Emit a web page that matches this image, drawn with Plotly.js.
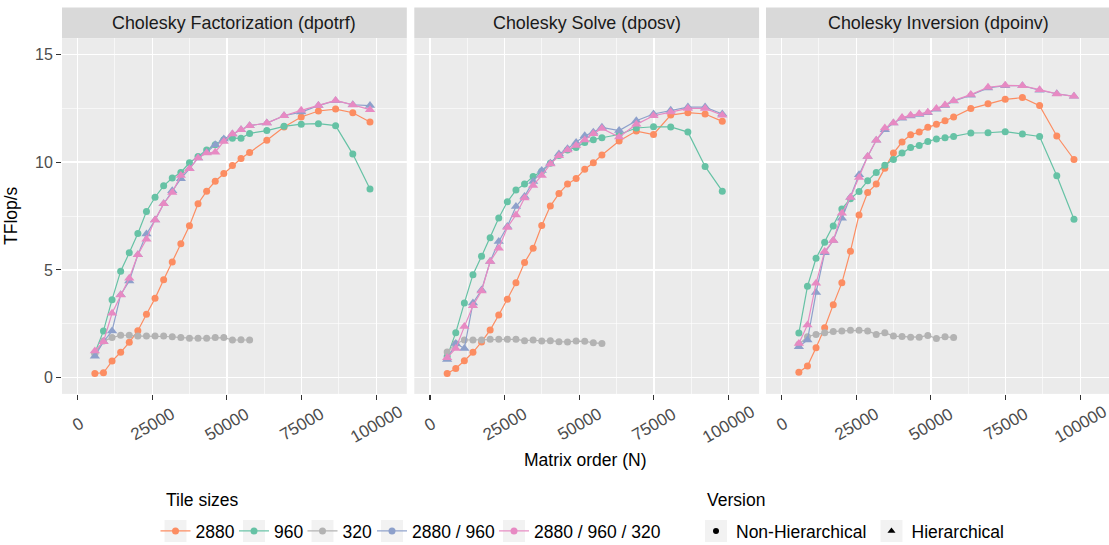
<!DOCTYPE html>
<html>
<head>
<meta charset="utf-8">
<script src="https://cdn.plot.ly/plotly-3.0.1.min.js"></script>
<style>html,body{margin:0;padding:0;background:#fff;}#chart{width:1109px;height:545px;}</style>
</head>
<body>
<div id="chart"></div>
<script>
// ---- data ----
const panels = ["Cholesky Factorization (dpotrf)", "Cholesky Solve (dposv)", "Cholesky Inversion (dpoinv)"];
const seriesNames = ["2880", "960", "320", "2880 / 960", "2880 / 960 / 320"];
const seriesHier = [false, false, false, true, true];
const versionNames = ["Non-Hierarchical", "Hierarchical"];
const legendTitles = ["Tile sizes", "Version"];
const N = [5760, 8640, 11520, 14400, 17280, 20160, 23040, 25920, 28800, 31680, 34560, 37440, 40320, 43200, 46080, 48960, 51840, 54720, 57600, 63360, 69120, 74880, 80640, 86400, 92160, 97920];
const N320 = [5760, 8640, 11520, 14400, 17280, 20160, 23040, 25920, 28800, 31680, 34560, 37440, 40320, 43200, 46080, 48960, 51840, 54720, 57600];
const xTicks = [0, 25000, 50000, 75000, 100000];
const xTickLabels = ["0", "25000", "50000", "75000", "100000"];
const yTicks = [0, 5, 10, 15];
const yTickLabels = ["0", "5", "10", "15"];

// dpotrf
const potrf_2880 = [0.20, 0.23, 0.77, 1.18, 1.64, 2.18, 2.94, 3.68, 4.54, 5.37, 6.21, 7.05, 8.07, 8.65, 9.11, 9.47, 9.84, 10.17, 10.45, 11.01, 11.63, 12.09, 12.37, 12.46, 12.29, 11.86];
const potrf_960 = [1.15, 2.17, 3.62, 4.94, 5.79, 6.69, 7.71, 8.37, 8.90, 9.26, 9.52, 9.97, 10.26, 10.56, 10.80, 11.04, 11.10, 11.11, 11.33, 11.46, 11.66, 11.76, 11.78, 11.69, 10.37, 8.75];
const potrf_320 = [1.10, 1.70, 1.86, 1.97, 1.97, 1.93, 1.93, 1.93, 1.93, 1.90, 1.86, 1.83, 1.83, 1.83, 1.86, 1.86, 1.75, 1.76, 1.75];
const potrf_2880_960 = [1.00, 1.67, 2.17, 3.85, 4.49, 5.70, 6.66, 7.31, 8.07, 8.67, 9.23, 9.69, 10.19, 10.45, 10.80, 11.07, 11.30, 11.50, 11.69, 11.81, 12.15, 12.32, 12.62, 12.85, 12.66, 12.62];
const potrf_2880_960_320 = [1.24, 1.67, 2.99, 3.84, 4.61, 5.70, 6.42, 7.32, 8.07, 8.59, 9.38, 9.69, 10.19, 10.42, 10.46, 10.96, 11.30, 11.50, 11.69, 11.81, 12.15, 12.40, 12.62, 12.86, 12.65, 12.43];
// dposv
const posv_2880 = [0.20, 0.43, 0.79, 1.18, 1.66, 2.21, 2.91, 3.64, 4.40, 5.34, 6.01, 7.06, 7.96, 8.54, 8.98, 9.24, 9.67, 9.97, 10.33, 10.98, 11.44, 11.28, 12.18, 12.29, 12.23, 11.89];
const posv_960 = [0.98, 2.09, 3.47, 4.78, 5.63, 6.49, 7.41, 8.16, 8.70, 8.98, 9.33, 9.57, 9.95, 10.31, 10.56, 10.68, 10.91, 11.04, 11.13, 11.28, 11.58, 11.64, 11.63, 11.39, 9.80, 8.65];
const posv_320 = [1.19, 1.58, 1.75, 1.75, 1.75, 1.78, 1.78, 1.78, 1.78, 1.72, 1.75, 1.70, 1.72, 1.67, 1.66, 1.70, 1.69, 1.62, 1.59];
const posv_2880_960 = [0.85, 1.59, 1.36, 3.47, 4.07, 5.39, 6.32, 7.01, 7.94, 8.41, 9.10, 9.61, 9.95, 10.37, 10.62, 10.91, 11.22, 11.38, 11.61, 11.46, 11.92, 12.23, 12.40, 12.55, 12.55, 12.23];
const posv_2880_960_320 = [0.93, 1.36, 2.37, 3.34, 4.02, 5.39, 6.01, 6.97, 7.55, 8.33, 8.92, 9.38, 9.91, 10.29, 10.56, 10.77, 11.02, 11.32, 11.56, 11.16, 11.75, 12.15, 12.32, 12.49, 12.49, 12.17];
// dpoinv
const poinv_2880 = [0.25, 0.54, 1.39, 2.32, 3.39, 4.40, 5.87, 7.55, 8.59, 8.98, 9.72, 10.42, 10.93, 11.27, 11.39, 11.61, 11.75, 11.92, 12.09, 12.48, 12.71, 12.91, 12.99, 12.62, 11.21, 10.12];
const poinv_960 = [2.07, 4.24, 5.54, 6.28, 7.04, 7.83, 8.30, 8.64, 9.13, 9.52, 9.85, 10.12, 10.42, 10.68, 10.77, 10.96, 11.07, 11.13, 11.19, 11.35, 11.36, 11.41, 11.30, 11.19, 9.37, 7.35];
const poinv_320 = [1.55, 1.90, 2.01, 2.09, 2.14, 2.17, 2.20, 2.20, 2.17, 2.01, 2.09, 1.93, 1.91, 1.88, 1.88, 1.96, 1.82, 1.90, 1.86];
const poinv_2880_960 = [1.44, 1.75, 3.95, 5.80, 6.36, 7.40, 8.37, 9.41, 10.26, 11.01, 11.50, 11.81, 12.03, 12.14, 12.21, 12.29, 12.45, 12.62, 12.83, 13.10, 13.44, 13.54, 13.54, 13.33, 13.17, 13.05];
const poinv_2880_960_320 = [1.59, 2.45, 4.38, 5.85, 6.36, 7.63, 8.36, 9.29, 10.26, 11.01, 11.58, 11.81, 12.07, 12.17, 12.24, 12.31, 12.48, 12.65, 12.85, 13.13, 13.47, 13.56, 13.54, 13.36, 13.16, 13.05];

const panelData = [
  [potrf_2880, potrf_960, potrf_320, potrf_2880_960, potrf_2880_960_320],
  [posv_2880, posv_960, posv_320, posv_2880_960, posv_2880_960_320],
  [poinv_2880, poinv_960, poinv_320, poinv_2880_960, poinv_2880_960_320]
];

// ---- styling ----
const colors = ["#FC8D62", "#66C2A5", "#B3B3B3", "#8DA0CB", "#E78AC3"];
const FONT = "Liberation Sans, Arial, Helvetica, sans-serif";
const W = 1109, H = 545;
const pxPerUnit = 344.8 / 115500;
const panelLeftPx = [62, 414.3, 766];
const xMin = -5250;
const yTopPx = 38.1, yBotPx = 393.9;
// legend key centres (px) for the 7 legend entries
const keyCentersPx = [175.5, 254, 322.5, 392, 514, 716, 891.5];
const keyRowPx = 531;

const traces = [];
panelData.forEach((series, p) => {
  const ax = p === 0 ? "" : String(p + 1);
  series.forEach((vals, s) => {
    traces.push({
      type: "scatter", mode: "lines+markers",
      x: s === 2 ? N320 : N, y: vals,
      xaxis: "x" + ax, yaxis: "y" + ax,
      line: {color: colors[s], width: 1.2},
      marker: {color: colors[s], size: seriesHier[s] ? 9 : 7, symbol: seriesHier[s] ? "triangle-up" : "circle"},
      showlegend: false, hoverinfo: "x+y", name: seriesNames[s]
    });
  });
});
const legendId = i => (i === 0 ? "legend" : "legend" + (i + 1));
// legend entries
seriesNames.forEach((nm, s) => {
  traces.push({type: "scatter", mode: "lines+markers", x: [null], y: [null], name: nm,
    line: {color: colors[s], width: 1.2}, marker: {color: colors[s], size: 7, symbol: "circle"},
    legend: legendId(s), showlegend: true});
});
versionNames.forEach((nm, v) => {
  traces.push({type: "scatter", mode: "markers", x: [null], y: [null], name: nm,
    marker: {color: "#000000", size: v === 0 ? 6 : 7, symbol: v === 0 ? "circle" : "triangle-up"},
    legend: legendId(5 + v), showlegend: true});
});

const layout = {
  width: W, height: H,
  margin: {l: 0, r: 0, t: 0, b: 0, autoexpand: false},
  paper_bgcolor: "#FFFFFF", plot_bgcolor: "#EBEBEB",
  font: {family: FONT, color: "#1A1A1A"},
  showlegend: true,
  shapes: [], annotations: []
};

const yDomain = [1 - yBotPx / H, 1 - yTopPx / H];
for (let p = 0; p < 3; p++) {
  const ax = p === 0 ? "" : String(p + 1);
  const leftPx = panelLeftPx[p];
  const rightPx = Math.min(leftPx + 344.8, W);
  const xMax = xMin + (rightPx - leftPx) / pxPerUnit;
  layout["xaxis" + ax] = {
    domain: [leftPx / W, rightPx / W], range: [xMin, xMax],
    anchor: "y" + ax, tickmode: "array", tickvals: xTicks, ticktext: xTickLabels,
    showticklabels: false, ticks: "outside", ticklen: 5, tickwidth: 1.1, tickcolor: "#333333",
    showgrid: true, gridcolor: "#FFFFFF", gridwidth: 1.3, zeroline: false, showline: false,
    minor: {tickmode: "array", tickvals: [12500, 37500, 62500, 87500], showgrid: true, gridcolor: "#FFFFFF", gridwidth: 0.6, ticks: ""},
    fixedrange: true, automargin: false
  };
  layout["yaxis" + ax] = {
    domain: yDomain, range: [-0.75, 15.75], anchor: "x" + ax,
    tickmode: "array", tickvals: yTicks, ticktext: yTickLabels,
    showticklabels: p === 0, ticks: p === 0 ? "outside" : "", ticklen: 5, tickwidth: 1.1, tickcolor: "#333333",
    tickfont: {family: FONT, size: 16, color: "#4D4D4D"},
    showgrid: true, gridcolor: "#FFFFFF", gridwidth: 1.3, zeroline: false, showline: false,
    minor: {tickmode: "array", tickvals: [2.5, 7.5, 12.5], showgrid: true, gridcolor: "#FFFFFF", gridwidth: 0.6, ticks: ""},
    fixedrange: true, automargin: false
  };
  // centred, rotated x tick labels (ggplot style)
  xTicks.forEach((tv, i) => {
    layout.annotations.push({xref: "x" + ax, yref: "paper", x: tv, y: 1 - 424 / H,
      text: xTickLabels[i], textangle: -30, showarrow: false, xanchor: "center", yanchor: "middle",
      font: {family: FONT, size: 17, color: "#4D4D4D"}});
  });
  // strip
  layout.shapes.push({type: "rect", xref: "paper", yref: "paper", x0: leftPx / W, x1: rightPx / W,
    y0: 1 - yTopPx / H, y1: 1 - 7.5 / H, fillcolor: "#D9D9D9", line: {width: 0}, layer: "below"});
  layout.annotations.push({xref: "paper", yref: "paper", x: (leftPx + 172.4) / W, y: 1 - 23 / H,
    text: panels[p], showarrow: false, xanchor: "center", yanchor: "middle",
    font: {family: FONT, size: 17.9, color: "#1A1A1A"}});
}
// axis titles
layout.annotations.push({xref: "paper", yref: "paper", x: 585.5 / W, y: 1 - 460 / H, text: "Matrix order (N)",
  showarrow: false, xanchor: "center", yanchor: "middle", font: {family: FONT, size: 17.5, color: "#000000"}});
layout.annotations.push({xref: "paper", yref: "paper", x: 11 / W, y: 1 - 216 / H, text: "TFlop/s", textangle: -90,
  showarrow: false, xanchor: "center", yanchor: "middle", font: {family: FONT, size: 17.5, color: "#000000"}});
// legend titles
layout.annotations.push({xref: "paper", yref: "paper", x: 164 / W, y: 1 - 500 / H, text: legendTitles[0],
  showarrow: false, xanchor: "left", yanchor: "middle", font: {family: FONT, size: 17.5, color: "#000000"}});
layout.annotations.push({xref: "paper", yref: "paper", x: 705 / W, y: 1 - 500 / H, text: legendTitles[1],
  showarrow: false, xanchor: "left", yanchor: "middle", font: {family: FONT, size: 17.5, color: "#000000"}});

// legend key backgrounds and legends
keyCentersPx.forEach((cx, i) => {
  layout.shapes.push({type: "rect", xref: "paper", yref: "paper",
    x0: (cx - 11) / W, x1: (cx + 11) / W, y0: 1 - (keyRowPx + 11) / H, y1: 1 - (keyRowPx - 11) / H,
    fillcolor: "#F2F2F2", line: {width: 0}, layer: "below"});
  layout[legendId(i)] = {orientation: "h", x: (cx - 20) / W, xanchor: "left", y: 1 - keyRowPx / H, yanchor: "middle",
    font: {family: FONT, size: 17.5, color: "#000000"}, bgcolor: "rgba(0,0,0,0)", borderwidth: 0,
    itemwidth: 30, tracegroupgap: 0};
});

Plotly.newPlot("chart", traces, layout, {displayModeBar: false, staticPlot: true});
</script>
</body>
</html>
